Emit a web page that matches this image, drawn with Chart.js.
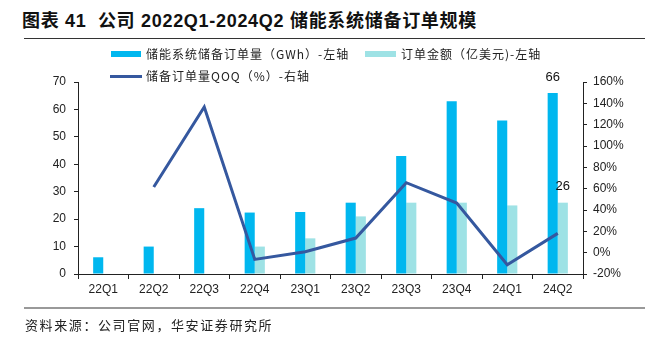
<!DOCTYPE html>
<html><head><meta charset="utf-8">
<script src="https://cdn.jsdelivr.net/npm/chart.js@4/dist/chart.umd.min.js"></script>
<style>
html,body{margin:0;padding:0;background:#fff;}
#wrap{position:relative;width:649px;height:341px;overflow:hidden;font-family:"Liberation Sans","Noto Sans CJK SC",sans-serif;}
#title{position:absolute;left:22px;top:6px;font-size:18px;font-weight:bold;color:#111;white-space:nowrap;letter-spacing:0.7px;}
#tline{position:absolute;left:24px;top:38px;width:621px;height:1px;background:#333;}
#sline{position:absolute;left:24px;top:307px;width:621px;height:2px;background:#999;}
#source{position:absolute;left:25px;top:315px;font-size:13px;color:#222;white-space:nowrap;letter-spacing:1.6px;font-family:"Noto Sans CJK SC",sans-serif;}
#cv{position:absolute;left:0;top:0;}
</style></head>
<body>
<div id="wrap">
<div id="title">图表 41&nbsp; 公司 2022Q1-2024Q2 储能系统储备订单规模</div>
<div id="tline"></div>
<canvas id="cv" width="649" height="341"></canvas>
<div id="sline"></div>
<div id="source">资料来源：公司官网，华安证券研究所</div>
</div>
<script>
const categories = ['22Q1','22Q2','22Q3','22Q4','23Q1','23Q2','23Q3','23Q4','24Q1','24Q2'];
const orderGWh = [6.1, 10, 24, 22.4, 22.6, 26, 43, 63, 56, 66];
const orderAmount = [null, null, null, 10, 13, 21, 26, 26, 25, 26];
const orderQoQ = [null, 61.5, 136.5, -6.3, 0.9, 13.7, 65.6, 46.5, -11.3, 18.1];
const leftTicks = [0, 70, 10];
const rightTicks = [-20, 160, 20];
const seriesNames = ['储能系统储备订单量（GWh）-左轴', '订单金额（亿美元)-左轴', '储备订单量QOQ（%）-右轴'];

const C1 = '#00B7EF', C2 = '#9EE2E5', C3 = '#35589F';
const tickFont = {family:'"Liberation Sans","Noto Sans CJK SC",sans-serif', size:12};

const legendPlugin = {
  id:'customLegend',
  afterDraw(chart){
    const ctx = chart.ctx;
    ctx.save();
    ctx.font = '12px "Noto Sans CJK SC","Liberation Sans",sans-serif';
    ctx.textBaseline = 'middle';
    ctx.fillStyle = C1; ctx.fillRect(111,51,30,6);
    ctx.fillStyle = C2; ctx.fillRect(365,51,31,6);
    ctx.strokeStyle = C3; ctx.lineWidth = 3;
    ctx.beginPath(); ctx.moveTo(110,76.5); ctx.lineTo(142,76.5); ctx.stroke();
    ctx.fillStyle = '#222';
    try { ctx.letterSpacing = '1px'; } catch(e) {}
    ctx.fillText(seriesNames[0], 146, 54);
    ctx.fillText(seriesNames[1], 401, 54);
    ctx.fillText(seriesNames[2], 146, 76);
    try { ctx.letterSpacing = '0px'; } catch(e) {}
    // value labels on last bars
    ctx.font = '13px "Liberation Sans",sans-serif';
    ctx.fillStyle = '#111';
    ctx.textAlign = 'center';
    [1,2].forEach(di=>{
      const meta = chart.getDatasetMeta(di);
      const n = meta.data.length-1;
      const el = meta.data[n];
      const v = chart.data.datasets[di].data[n];
      ctx.fillText(String(v), el.x, el.y-16);
    });
    ctx.restore();
  }
};

new Chart(document.getElementById('cv'), {
  data:{
    labels:categories,
    datasets:[
      {type:'line', label:seriesNames[2], data:orderQoQ, yAxisID:'y1', borderColor:C3, borderWidth:3, pointRadius:0, tension:0, spanGaps:false, order:0},
      {type:'bar', label:seriesNames[0], data:orderGWh, yAxisID:'y', backgroundColor:C1, barPercentage:1, categoryPercentage:0.4, order:1},
      {type:'bar', label:seriesNames[1], data:orderAmount, yAxisID:'y', backgroundColor:C2, barPercentage:1, categoryPercentage:0.4, order:1}
    ]
  },
  options:{
    responsive:false, animation:false,
    layout:{padding:{top:82, bottom:37, left:0, right:0}},
    plugins:{legend:{display:false}, tooltip:{enabled:false}},
    scales:{
      x:{
        type:'category', offset:true,
        grid:{display:true, drawOnChartArea:false, drawTicks:true, tickLength:5, color:'#222', offset:true},
        border:{display:true, color:'#222', width:1},
        ticks:{font:tickFont, color:'#222', padding:3, maxRotation:0},
        afterFit(s){ s.height = 30; }
      },
      y:{
        position:'left', min:leftTicks[0], max:leftTicks[1],
        ticks:{stepSize:leftTicks[2], font:tickFont, color:'#222', padding:8},
        grid:{display:true, drawOnChartArea:false, drawTicks:true, tickLength:4, color:'#222'},
        border:{display:true, color:'#222', width:1},
        afterFit(s){ s.width = 78; }
      },
      y1:{
        position:'right', min:rightTicks[0], max:rightTicks[1],
        ticks:{stepSize:rightTicks[2], font:tickFont, color:'#222', padding:6, callback:v=>v+'%'},
        grid:{display:true, drawOnChartArea:false, drawTicks:true, tickLength:4, color:'#222'},
        border:{display:true, color:'#222', width:1},
        afterFit(s){ s.width = 66; }
      }
    }
  },
  plugins:[legendPlugin]
});
</script>
</body></html>
